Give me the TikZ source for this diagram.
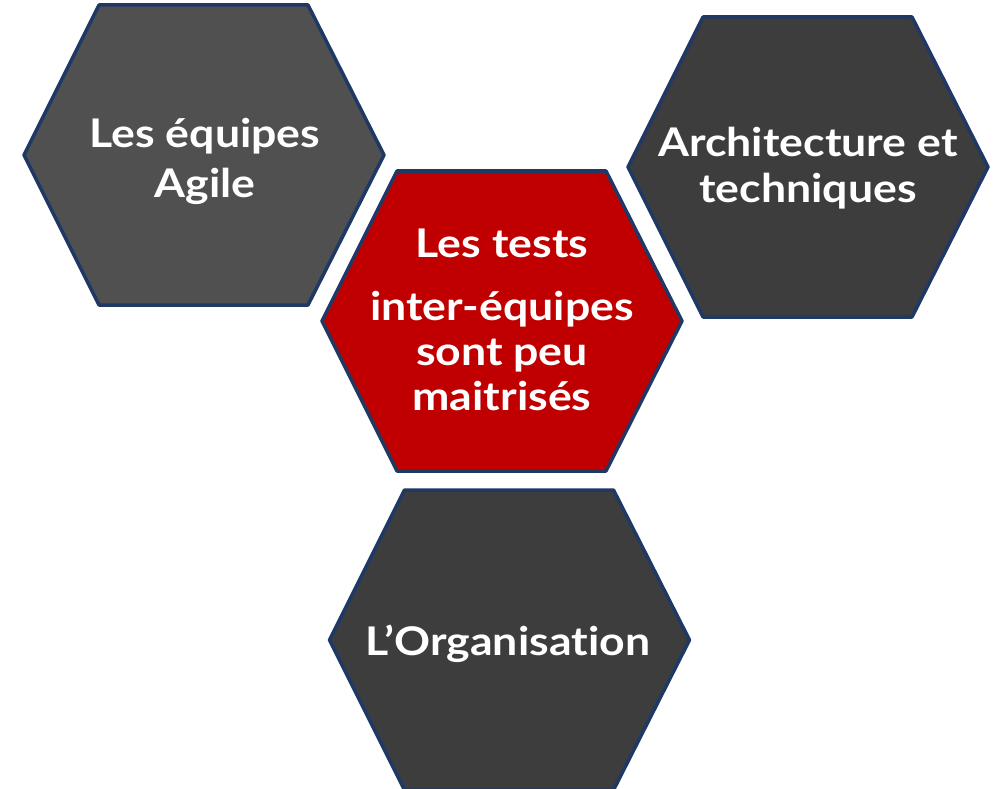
\documentclass[tikz,border=0pt]{standalone}
\usepackage{fontspec}
\setmainfont{Lato}[BoldFont={* Bold}, FakeStretch=1.13, Ligatures=NoCommon]
\definecolor{hexline}{HTML}{1F3864}
\definecolor{hexgrayA}{HTML}{505050}
\definecolor{hexgrayB}{HTML}{3D3D3D}
\definecolor{hexred}{HTML}{C00000}
\tikzset{
  hexbox/.style={draw=hexline, line width=3.5pt, line join=round},
  lbl/.style={text=white, font=\bfseries\fontsize{39.5}{44}\selectfont, anchor=base, inner sep=0pt}
}
\newcommand{\hexpath}[3]{% cx, cy, fill
  \fill[#3] (#1-180,#2) -- (#1-105,#2-150) -- (#1+104,#2-150) -- (#1+180,#2)
    -- (#1+104,#2+150) -- (#1-105,#2+150) -- cycle;
  \draw[hexbox] (#1-180,#2) -- (#1-105,#2-150) -- (#1+104,#2-150) -- (#1+180,#2)
    -- (#1+104,#2+150) -- (#1-105,#2+150) -- cycle;
}
\begin{document}
\begin{tikzpicture}[x=1pt,y=-1pt]
\useasboundingbox (0,0) rectangle (996,789);
\begin{scope}
\clip (0,0) rectangle (996,789);
\hexpath{204}{155}{hexgrayA}
\hexpath{808}{167}{hexgrayB}
\hexpath{502}{321}{hexred}
\hexpath{509.5}{640}{hexgrayB}
\end{scope}
\node[lbl] (a1) at (205,147) {Les équipes};
\node[lbl] (a2) at (205,197) {Agile};
\node[lbl] (b1) at (808,157) {Architecture et};
\node[lbl] (b2) at (808,202) {techniques};
\node[lbl] (c1) at (502,257) {Les tests};
\node[lbl] (c2) at (502,320) {inter-équipes};
\node[lbl] (c3) at (502,365) {sont peu};
\node[lbl] (c4) at (502,410) {maitrisés};
\node[lbl] (d1) at (508,655) {L’Organisation};
\end{tikzpicture}
\end{document}
